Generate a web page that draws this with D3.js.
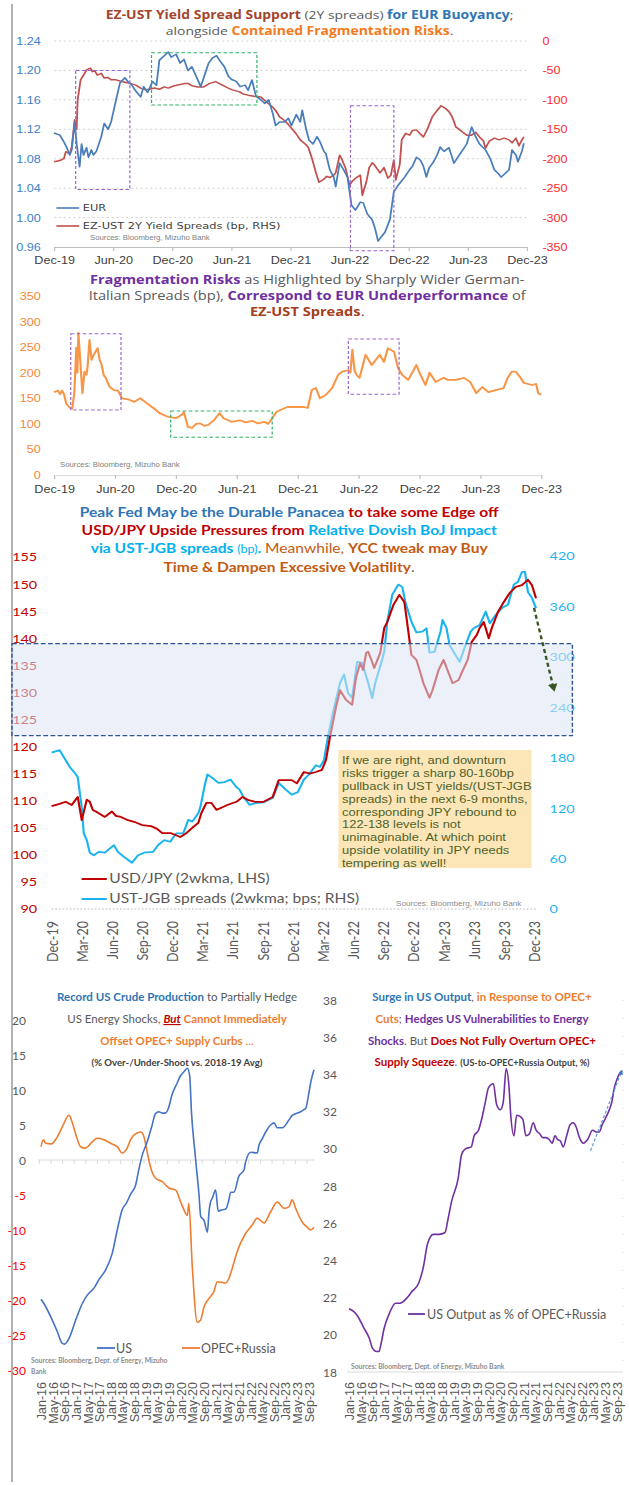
<!DOCTYPE html>
<html>
<head>
<meta charset="utf-8">
<script src="https://cdnjs.cloudflare.com/ajax/libs/d3/7.8.5/d3.min.js"></script>
<style>
  body { margin: 0; background: #fff; }
  svg { display: block; }
</style>
</head>
<body>
<div id="chart"></div>
<script>
// ---------- data (x = months since first tick) ----------

// panel 1: EUR vs EZ-UST 2Y spread (months since Dec-19)
const halfYearLabels = ["Dec-19","Jun-20","Dec-20","Jun-21","Dec-21","Jun-22","Dec-22","Jun-23","Dec-23"];
const eurPts = [[0,1.115],[0.6,1.112],[1.0,1.103],[1.3,1.095],[1.6,1.085],[1.8,1.092],[2.1,1.13],[2.3,1.10],[2.6,1.069],[2.8,1.10],[3.0,1.085],[3.3,1.095],[3.5,1.082],[3.8,1.092],[4.0,1.085],[4.3,1.09],[4.8,1.11],[5.1,1.128],[5.5,1.12],[5.8,1.13],[6.3,1.16],[6.7,1.183],[7.2,1.19],[7.5,1.185],[7.9,1.18],[8.3,1.172],[8.8,1.164],[9.1,1.178],[9.5,1.17],[10.0,1.185],[10.4,1.18],[10.7,1.214],[11.2,1.22],[11.6,1.225],[11.9,1.218],[12.4,1.222],[12.8,1.21],[13.2,1.215],[13.6,1.20],[14.0,1.205],[14.5,1.19],[14.9,1.178],[15.2,1.19],[15.7,1.21],[16.1,1.217],[16.5,1.22],[16.9,1.212],[17.3,1.205],[17.7,1.192],[18.0,1.188],[18.5,1.185],[18.9,1.178],[19.4,1.18],[19.7,1.173],[20.1,1.187],[20.5,1.165],[21.0,1.16],[21.4,1.155],[21.8,1.16],[22.2,1.142],[22.5,1.125],[22.9,1.13],[23.4,1.13],[23.8,1.135],[24.1,1.125],[24.6,1.14],[25.0,1.13],[25.2,1.146],[25.6,1.12],[25.9,1.105],[26.3,1.10],[26.7,1.11],[27.0,1.103],[27.4,1.09],[27.6,1.087],[28.0,1.065],[28.4,1.055],[28.6,1.042],[29.0,1.074],[29.4,1.065],[29.8,1.055],[30.2,1.017],[30.6,1.01],[31.1,1.021],[31.4,1.02],[31.8,1.005],[32.3,0.997],[32.6,0.985],[32.9,0.968],[33.3,0.975],[33.6,0.98],[34.1,0.997],[34.5,1.035],[35.0,1.045],[35.6,1.055],[36.1,1.065],[36.4,1.07],[36.8,1.082],[37.2,1.078],[37.5,1.07],[37.8,1.055],[38.1,1.068],[38.5,1.075],[38.9,1.085],[39.2,1.096],[39.6,1.09],[40.1,1.095],[40.6,1.074],[40.9,1.08],[41.4,1.09],[41.9,1.10],[42.4,1.123],[42.8,1.11],[43.2,1.10],[43.8,1.092],[44.3,1.08],[44.7,1.065],[45.1,1.06],[45.4,1.055],[45.8,1.06],[46.2,1.065],[46.5,1.092],[46.9,1.085],[47.1,1.076],[47.5,1.09],[47.7,1.101]];
const ezSpreadPts = [[0,-205],[0.6,-203],[1.0,-200],[1.2,-188],[1.6,-192],[1.8,-180],[2.1,-134],[2.3,-150],[2.4,-100],[2.7,-66],[3.0,-58],[3.3,-49],[3.7,-46],[3.9,-52],[4.1,-50],[4.4,-58],[4.8,-55],[5.1,-63],[5.5,-62],[5.8,-66],[6.3,-66],[6.7,-68],[7.2,-70],[7.7,-72],[8.3,-75],[8.8,-80],[9.3,-83],[9.7,-82],[10.2,-80],[10.7,-82],[11.2,-78],[11.6,-80],[12.2,-76],[12.8,-74],[13.3,-72],[13.6,-72],[14.0,-76],[14.6,-78],[15.2,-78],[15.8,-72],[16.4,-69],[17.1,-75],[17.7,-80],[18.1,-83],[18.8,-86],[19.2,-90],[19.7,-92],[20.3,-94],[21.0,-95],[21.6,-104],[22.2,-112],[22.5,-118],[22.9,-129],[23.4,-135],[23.8,-142],[24.1,-148],[24.6,-158],[25.0,-168],[25.5,-175],[25.8,-180],[26.2,-200],[26.6,-224],[26.9,-240],[27.3,-236],[27.7,-230],[28.0,-232],[28.4,-228],[28.6,-224],[29.0,-194],[29.2,-200],[29.6,-216],[30.0,-245],[30.3,-238],[30.7,-232],[31.1,-228],[31.3,-262],[31.7,-240],[32.0,-215],[32.3,-207],[32.6,-212],[33.1,-224],[33.5,-215],[33.9,-233],[34.2,-228],[34.5,-202],[34.7,-236],[35.1,-210],[35.3,-168],[35.7,-157],[36.1,-160],[36.4,-152],[36.8,-151],[37.2,-158],[37.5,-163],[37.9,-150],[38.4,-129],[38.9,-118],[39.3,-110],[39.7,-114],[40.1,-120],[40.4,-128],[40.8,-146],[41.2,-151],[41.5,-155],[41.9,-160],[42.4,-160],[42.8,-155],[43.2,-163],[43.6,-170],[43.8,-182],[44.2,-170],[44.7,-165],[45.2,-168],[45.7,-165],[46.2,-168],[46.5,-173],[46.9,-165],[47.2,-178],[47.5,-168],[47.7,-163]];
// highlight boxes in left-axis units
const p1Boxes = [
  { t0: 2.2, t1: 7.7, v0: 1.20, v1: 1.038, kind: "purple" },
  { t0: 9.9, t1: 20.6, v0: 1.224, v1: 1.153, kind: "green" },
  { t0: 30.1, t1: 34.5, v0: 1.152, v1: 0.955, kind: "purple" }
];

// panel 2: German-Italian spread (bp)
const btpBundPts = [[0,162],[0.4,165],[0.6,158],[0.8,165],[1.0,157],[1.2,140],[1.4,135],[1.6,131],[1.8,130],[2.0,160],[2.2,249],[2.3,200],[2.4,278],[2.6,220],[2.8,160],[3.0,202],[3.2,196],[3.3,210],[3.5,264],[3.7,225],[3.9,235],[4.1,241],[4.3,248],[4.5,225],[4.7,215],[4.9,195],[5.1,190],[5.3,180],[5.5,172],[5.9,166],[6.3,165],[6.7,150],[7.3,148],[7.9,143],[8.5,150],[9.1,141],[9.5,135],[9.8,131],[10.4,121],[11.2,114],[12.0,111],[12.6,118],[12.8,123],[13.2,94],[13.6,92],[14.0,100],[14.4,101],[14.8,96],[15.2,98],[15.8,108],[16.3,121],[16.7,111],[17.5,104],[18.3,107],[18.9,103],[19.5,106],[20.1,101],[20.7,104],[21.1,100],[21.5,111],[21.9,123],[22.3,127],[23.0,133],[23.8,133],[24.6,133],[25.0,131],[25.4,166],[25.8,170],[26.2,150],[26.8,157],[27.4,170],[28.0,196],[28.4,202],[29.0,205],[29.2,200],[29.4,245],[29.6,205],[29.8,196],[30.1,190],[30.7,235],[31.3,215],[32.1,235],[32.5,221],[32.9,248],[33.5,241],[33.9,209],[34.3,196],[34.9,186],[35.7,215],[36.1,196],[36.6,176],[37.0,200],[37.6,182],[38.4,190],[38.8,186],[39.6,186],[40.4,190],[41.0,182],[41.6,160],[42.2,172],[42.8,162],[43.5,166],[44.3,170],[44.7,190],[45.1,202],[45.5,202],[45.9,192],[46.3,180],[47.1,176],[47.5,178],[47.7,160],[48.0,157]];
const p2Boxes = [
  { t0: 1.65, t1: 6.6, v0: 276, v1: 127, kind: "purple" },
  { t0: 11.5, t1: 21.5, v0: 125, v1: 74, kind: "green" },
  { t0: 29.0, t1: 34.0, v0: 266, v1: 158, kind: "purple" }
];

// panel 3: USD/JPY vs UST-JGB spread (months since Dec-19)
const quarterLabels = ["Dec-19","Mar-20","Jun-20","Sep-20","Dec-20","Mar-21","Jun-21","Sep-21","Dec-21","Mar-22","Jun-22","Sep-22","Dec-22","Mar-23","Jun-23","Sep-23","Dec-23"];
const usdjpyPts = [[0,109.0],[0.8,109.4],[1.4,109.8],[2.0,109.2],[2.6,110.7],[3.0,106.4],[3.5,110.2],[3.8,109.8],[4.1,108.3],[4.4,108.0],[5.3,107.0],[6.0,108.0],[6.4,107.2],[6.9,107.0],[7.6,106.4],[8.2,106.1],[9.0,105.5],[9.9,105.3],[10.5,104.8],[11.0,104.0],[11.9,104.0],[12.8,103.3],[13.4,104.0],[14.0,105.0],[14.6,105.9],[14.9,107.7],[15.4,109.6],[15.9,109.6],[16.4,108.3],[17.0,108.8],[17.6,109.3],[18.4,109.8],[19.0,110.7],[19.6,110.1],[20.3,109.8],[21.1,109.8],[22.0,110.7],[22.6,113.8],[23.2,113.8],[23.9,113.8],[24.4,113.2],[25.1,115.3],[25.7,115.0],[26.3,115.3],[26.9,115.7],[27.3,117.5],[27.7,121.8],[28.3,127.3],[28.7,130.4],[29.3,128.6],[29.9,127.7],[30.3,132.8],[30.7,135.4],[31.0,134.1],[31.3,137.3],[31.5,137.5],[31.9,135.6],[32.1,134.5],[32.7,137.3],[33.1,141.9],[33.4,143.0],[34.0,146.1],[34.6,148.0],[35.1,146.7],[35.5,141.2],[35.8,136.9],[36.3,136.0],[36.7,133.6],[37.0,131.7],[37.6,129.0],[37.9,130.4],[38.5,134.1],[39.0,136.0],[39.4,134.1],[39.9,131.7],[40.5,132.3],[40.8,133.6],[41.4,136.0],[41.8,139.3],[42.3,140.6],[42.6,141.9],[43.0,143.0],[43.5,140.0],[43.8,141.9],[44.4,144.8],[45.0,146.7],[45.6,148.4],[46.2,149.5],[46.8,149.8],[47.4,150.8],[47.8,149.8],[48.2,147.4]];
const ustJgbPts = [[0,186],[0.8,189],[1.2,181],[1.8,169],[2.3,162],[2.6,157],[3.0,121],[3.2,90],[3.5,82],[3.8,67],[4.2,64],[4.7,68],[5.3,67],[6.2,76],[6.6,68],[7.2,62],[8.0,55],[8.6,64],[9.2,67],[10.1,68],[10.6,76],[11.2,82],[11.8,80],[12.4,90],[13.1,90],[13.6,106],[14.0,104],[14.6,114],[14.8,121],[15.2,145],[15.5,160],[16.0,156],[16.6,150],[17.2,151],[17.8,154],[18.4,145],[18.7,142],[19.1,133],[19.7,124],[20.3,126],[21.1,127],[22.0,132],[22.6,150],[23.3,142],[23.9,136],[24.5,139],[25.1,154],[25.6,160],[26.3,171],[26.7,169],[27.1,177],[27.5,205],[28.1,239],[28.7,269],[29.1,279],[29.5,257],[29.9,251],[30.4,294],[30.9,293],[31.5,269],[31.9,251],[32.2,269],[32.8,293],[33.1,306],[33.4,342],[33.9,374],[34.5,386],[34.9,383],[35.2,365],[35.8,342],[36.3,329],[36.9,330],[37.3,334],[37.6,305],[38.1,306],[38.7,330],[38.9,344],[39.3,334],[39.6,314],[40.2,302],[40.6,294],[41.1,311],[41.7,330],[42.0,334],[42.6,338],[43.2,354],[43.6,340],[44.2,350],[44.8,358],[45.4,362],[46.0,386],[46.4,389],[46.8,401],[47.1,401],[47.4,377],[47.8,370],[48.2,358]];
const targetBand = [122, 139];               // USD/JPY band (LHS)
const jpyPath = [[48.0,145.6],[50.0,130.4]]; // projected pullback (LHS)
const noteLines = ["If we are right, and downturn","risks trigger a sharp 80-160bp","pullback in UST  yields/(UST-JGB","spreads) in the next 6-9 months,","corresponding JPY rebound to","122-138 levels is not","unimaginable. At which point","upside volatility in JPY needs","tempering as well!"];

// panel 4: crude output (months since Jan-16)
const monthLabels = ["Jan-16","May-16","Sep-16","Jan-17","May-17","Sep-17","Jan-18","May-18","Sep-18","Jan-19","May-19","Sep-19","Jan-20","May-20","Sep-20","Jan-21","May-21","Sep-21","Jan-22","May-22","Sep-22","Jan-23","May-23","Sep-23"];
const usOutPts = [[0,-19.9],[1.0,-20.5],[3.9,-22.9],[5.6,-24.5],[7.3,-26.2],[8.1,-26.3],[9.6,-25.5],[11.9,-22.9],[14.2,-20.5],[15.9,-19.3],[18.2,-18.3],[19.9,-17.1],[22.2,-15.7],[24.5,-13.3],[26.2,-10.0],[27.9,-7.1],[29.3,-6.2],[30.9,-4.8],[32.5,-3.6],[33.7,-1.2],[34.8,0.7],[36.5,2.6],[38.2,5.0],[39.3,6.6],[40.5,6.9],[41.6,6.7],[42.7,6.7],[43.8,7.4],[45.0,9.3],[46.8,11.0],[47.9,12.0],[49.1,12.6],[50.3,13.1],[51.1,12.0],[51.7,6.9],[53.0,0.7],[54.3,-5.0],[54.9,-8.1],[56.0,-8.6],[57.2,-10.3],[57.7,-7.6],[58.2,-6.1],[58.9,-5.4],[60.0,-4.3],[60.9,-7.3],[62.3,-7.1],[63.5,-7.0],[64.4,-6.0],[65.2,-4.6],[66.3,-4.6],[68.0,-2.3],[69.8,-1.4],[70.3,-0.3],[72.1,1.1],[74.3,1.0],[74.9,2.1],[76.1,3.1],[77.2,4.0],[78.9,5.0],[80.1,5.3],[81.2,4.6],[82.9,4.6],[85.2,5.7],[86.4,6.4],[88.1,6.7],[89.2,6.9],[90.0,7.1],[91.0,7.4],[92.1,9.7],[92.7,11.1],[93.8,12.9]];
const opecOutPts = [[0,1.9],[0.8,2.9],[1.6,2.4],[3.5,2.3],[5.6,3.3],[7.3,4.7],[9.6,6.4],[10.7,5.4],[12.0,3.6],[13.6,1.9],[15.3,1.7],[17.6,2.6],[19.3,3.1],[21.6,2.9],[23.9,2.4],[26.2,1.9],[27.9,1.0],[29.6,1.7],[30.8,2.9],[32.0,3.6],[34.3,4.0],[35.4,3.3],[36.5,1.1],[37.7,-1.1],[39.4,-2.6],[41.7,-3.1],[44.0,-4.0],[46.3,-4.3],[48.0,-6.0],[49.1,-7.1],[50.3,-7.9],[50.8,-6.2],[52.0,-15.3],[53.7,-23.2],[54.8,-22.9],[56.0,-21.0],[57.7,-19.8],[59.4,-18.8],[60.6,-17.4],[62.3,-17.5],[63.4,-17.6],[64.6,-16.9],[65.7,-15.5],[67.4,-13.1],[70.3,-10.5],[72.6,-9.3],[74.3,-8.3],[76.6,-9.0],[78.9,-7.4],[81.2,-6.0],[83.5,-6.9],[85.2,-6.7],[86.3,-5.7],[87.5,-6.9],[89.8,-8.9],[91.5,-9.6],[92.6,-10.0],[93.8,-9.6]];
const usShareOfOpecPts = [[0,21.4],[2,21.2],[3,21.0],[5,20.4],[7,19.8],[8,19.3],[9.5,19.1],[10.3,19.1],[11,19.5],[12,20.3],[14,21.2],[16,21.7],[17.5,21.7],[20,22.0],[21.5,22.3],[24,22.8],[25.5,23.6],[27,24.9],[29,25.4],[31,25.4],[33,25.5],[34,26.2],[35.3,27.2],[37.5,28.4],[38.7,29.7],[40,30.0],[42,30.1],[43,30.7],[44.5,31.0],[45.6,31.6],[46.7,32.4],[48,33.3],[49.6,33.5],[50.7,32.4],[52,32.1],[53,32.5],[54,34.3],[55,33.3],[55.5,32.0],[56.7,30.7],[57.6,31.8],[59.7,31.6],[60.8,30.7],[62,30.8],[63.3,31.4],[64.3,31.0],[65.6,30.8],[66.6,30.6],[67.7,30.6],[68.8,30.5],[69.8,30.3],[70.8,30.7],[71.7,30.5],[72.7,30.4],[73.6,30.1],[74.8,30.7],[76,31.3],[77,31.4],[78,31.2],[79.2,30.6],[80.5,30.3],[82,30.5],[83.7,31.0],[85,30.9],[86,30.9],[87,31.3],[88,31.6],[89.2,32.0],[90.3,32.5],[91.2,33.3],[92,33.7],[92.8,34.0],[93.7,34.2]];
const shareTrend = [[83,29.9],[93.8,34.2]];

// ---------- drawing ----------
const W = 629, H = 1486;
const ARIAL = "'Liberation Sans', Arial, sans-serif";
const CALIBRI = "Lato, 'Open Sans', sans-serif";
const SEGOE = "'Open Sans', sans-serif";
const VERDANA = "'DejaVu Sans', Verdana, sans-serif";
const GRAY = "#595959";

const svg = d3.select("#chart").append("svg")
    .attr("width", W).attr("height", H);
svg.append("rect").attr("width", W).attr("height", H).attr("fill", "#fff");

const defs = svg.append("defs");
function arrowMarker(id, color, size) {
  defs.append("marker").attr("id", id)
    .attr("viewBox", "0 0 10 10").attr("refX", 8).attr("refY", 5)
    .attr("markerWidth", size).attr("markerHeight", size)
    .attr("orient", "auto")
    .append("path").attr("d", "M0,0 L10,5 L0,10 z").attr("fill", color);
}
arrowMarker("arrGreen", "#375623", 4);
arrowMarker("arrBlue", "#4472c4", 4);

// left frame line
svg.append("line").attr("x1", 12).attr("x2", 12).attr("y1", 4).attr("y2", 1482)
  .attr("stroke", "#7f7f7f").attr("stroke-width", 1.2);

function richLine(g, x, y, parts, font, size) {
  const t = g.append("text").attr("x", x).attr("y", y)
    .attr("text-anchor", "middle")
    .style("font-family", font).style("font-size", size + "px");
  parts.forEach(p => {
    const s = t.append("tspan").text(p[0]).attr("fill", p[1] || GRAY);
    const st = p[2] || "";
    if (st.includes("b")) s.attr("font-weight", "bold");
    if (st.includes("i")) s.attr("font-style", "italic");
    if (st.includes("u")) s.attr("text-decoration", "underline");
    if (st.includes("s")) s.style("font-size", (size - 2.5) + "px");
  });
}

function drawSeries(g, pts, x, y, color, w, curve) {
  g.append("path").datum(pts)
    .attr("d", d3.line().x(d => x(d[0])).y(d => y(d[1])).curve(curve || d3.curveLinear))
    .attr("fill", "none").attr("stroke", color).attr("stroke-width", w)
    .attr("stroke-linejoin", "round");
}

const boxColors = { purple: "#9966cc", green: "#33b06a" };
function drawBoxes(g, boxes, x, y) {
  boxes.forEach(b => {
    g.append("rect")
      .attr("x", x(b.t0)).attr("y", y(b.v0))
      .attr("width", x(b.t1) - x(b.t0)).attr("height", y(b.v1) - y(b.v0))
      .attr("fill", "none").attr("stroke", boxColors[b.kind])
      .attr("stroke-width", 1).attr("stroke-dasharray", "3,2");
  });
}

function textAt(g, x, y, str, opts) {
  return g.append("text").attr("x", x).attr("y", y).text(str)
    .attr("text-anchor", opts.anchor || "start")
    .attr("fill", opts.color || GRAY)
    .attr("font-weight", opts.weight || "normal")
    .style("font-family", opts.font || ARIAL)
    .style("font-size", opts.size + "px");
}

// the upper three charts are pasted wider than they are tall
const top3 = svg.append("g").attr("transform", "scale(1.2,1)");

// ===== Panel 1 =====
{
  const g = top3.append("g");
  const x = d3.scaleLinear().domain([0, 48]).range([45, 439]);
  const yL = d3.scaleLinear().domain([0.96, 1.24]).range([247, 41]);
  const yR = d3.scaleLinear().domain([-350, 0]).range([247, 41]);

  d3.range(0.96, 1.2401, 0.04).forEach(v => {
    if (Math.abs(v - 0.96) > 1e-6)
      g.append("line").attr("x1", 45).attr("x2", 439).attr("y1", yL(v)).attr("y2", yL(v))
        .attr("stroke", "#d9d9d9").attr("stroke-dasharray", "2,2");
    textAt(g, 34, yL(v) + 4, v.toFixed(2), { anchor: "end", color: "#3d7fc6", size: 10.5 });
  });
  d3.range(-350, 1, 50).forEach(v =>
    textAt(g, 452, yR(v) + 4, v, { color: "#ff2a2a", size: 10.5 }));

  const ax = g.append("g").attr("transform", "translate(0,247)")
    .call(d3.axisBottom(x).tickValues(d3.range(0, 49, 6))
      .tickFormat((d, i) => halfYearLabels[i]).tickSize(4).tickPadding(6).tickSizeOuter(0));
  ax.select(".domain").attr("stroke", "#bfbfbf");
  ax.selectAll(".tick line").attr("stroke", "#bfbfbf");
  ax.selectAll("text").attr("fill", "#404040").style("font-family", ARIAL).style("font-size", "10.5px");

  drawSeries(g, ezSpreadPts, x, yR, "#c0504d", 1.5);
  drawSeries(g, eurPts, x, yL, "#4a7ebb", 1.5);
  drawBoxes(g, p1Boxes, x, yL);

  richLine(g, 258, 19, [["EZ-UST Yield Spread Support", "#a5452c", "b"], [" (2Y spreads) ", GRAY], ["for EUR  Buoyancy", "#2e75b6", "b"], [";", GRAY]], SEGOE, 11.6);
  richLine(g, 258, 35, [["alongside ", GRAY], ["Contained Fragmentation Risks", "#f47a20", "b"], [".", GRAY]], SEGOE, 11.6);

  g.append("line").attr("x1", 47).attr("x2", 66).attr("y1", 208).attr("y2", 208).attr("stroke", "#4a7ebb").attr("stroke-width", 1.6);
  textAt(g, 69, 211.5, "EUR", { color: "#404040", size: 9.5, font: VERDANA });
  g.append("line").attr("x1", 47).attr("x2", 66).attr("y1", 226).attr("y2", 226).attr("stroke", "#c0504d").attr("stroke-width", 1.6);
  textAt(g, 69, 229.5, "EZ-UST 2Y Yield Spreads (bp, RHS)", { color: "#404040", size: 9.5, font: VERDANA });
  textAt(g, 75, 240, "Sources: Bloomberg, Mizuho Bank", { color: "#808080", size: 6.5 });
}

// ===== Panel 2 =====
{
  const g = top3.append("g");
  const x = d3.scaleLinear().domain([0, 48]).range([45, 451]);
  const y = d3.scaleLinear().domain([0, 350]).range([475, 296]);

  d3.range(0, 351, 50).forEach(v =>
    textAt(g, 34, y(v) + 4, v, { anchor: "end", color: "#f5873a", size: 10.5 }));

  const ax = g.append("g").attr("transform", "translate(0,475)")
    .call(d3.axisBottom(x).tickValues(d3.range(0, 49, 6))
      .tickFormat((d, i) => halfYearLabels[i]).tickSize(4).tickPadding(7).tickSizeOuter(0));
  ax.select(".domain").attr("stroke", "#d9d9d9");
  ax.selectAll(".tick line").attr("stroke", "#bfbfbf");
  ax.selectAll("text").attr("fill", "#404040").style("font-family", ARIAL).style("font-size", "10.5px");

  drawSeries(g, btpBundPts, x, y, "#f79646", 1.8);
  drawBoxes(g, p2Boxes, x, y);

  richLine(g, 256, 284, [["Fragmentation Risks", "#7030a0", "b"], [" as Highlighted by Sharply Wider German-", GRAY]], SEGOE, 12.2);
  richLine(g, 256, 300, [["Italian Spreads  (bp), ", GRAY], ["Correspond to EUR Underperformance", "#7030a0", "b"], [" of", GRAY]], SEGOE, 12.2);
  richLine(g, 256, 316, [["EZ-UST Spreads", "#a5401c", "b"], [".", GRAY]], SEGOE, 12.2);
  textAt(g, 50, 467, "Sources: Bloomberg, Mizuho Bank", { color: "#808080", size: 6.5 });
}

// ===== Panel 3 =====
{
  const g = top3.append("g");
  const x = d3.scaleLinear().domain([0, 48]).range([43, 445]);
  const yL = d3.scaleLinear().domain([90, 155]).range([909, 557]);
  const yR = d3.scaleLinear().domain([0, 420]).range([909, 556]);

  d3.range(90, 156, 5).forEach(v =>
    textAt(g, 31, yL(v) + 4.5, v, { anchor: "end", color: "#c00000", size: 12, font: CALIBRI }));
  d3.range(0, 421, 60).forEach(v =>
    textAt(g, 458, yR(v) + 4.5, v, { color: "#1fb4ef", size: 12, font: CALIBRI }));

  g.append("line").attr("x1", 43).attr("x2", 447).attr("y1", 909).attr("y2", 909)
    .attr("stroke", "#bfbfbf").attr("stroke-dasharray", "1.5,1.5");
  quarterLabels.forEach((lab, i) => {
    g.append("text").text(lab)
      .attr("transform", `translate(${x(i * 3)},921) rotate(-90)`)
      .attr("text-anchor", "end").attr("dominant-baseline", "central")
      .attr("fill", GRAY).style("font-family", CALIBRI).style("font-size", "12.5px");
  });

  drawSeries(g, ustJgbPts, x, yR, "#19b4f0", 1.8);
  drawSeries(g, usdjpyPts, x, yL, "#c00000", 1.8);

  // target band
  g.append("rect").attr("x", 10).attr("y", yL(targetBand[1]))
    .attr("width", 467).attr("height", yL(targetBand[0]) - yL(targetBand[1]))
    .attr("fill", "#dce6f4").attr("fill-opacity", 0.55)
    .attr("stroke", "#2f5597").attr("stroke-width", 1.2).attr("stroke-dasharray", "4,2");

  g.append("line")
    .attr("x1", x(jpyPath[0][0])).attr("y1", yL(jpyPath[0][1]))
    .attr("x2", x(jpyPath[1][0])).attr("y2", yL(jpyPath[1][1]))
    .attr("stroke", "#375623").attr("stroke-width", 2).attr("stroke-dasharray", "4,3")
    .attr("marker-end", "url(#arrGreen)");

  // note
  g.append("rect").attr("x", 282).attr("y", 750).attr("width", 161).attr("height", 118)
    .attr("fill", "#fce6b8");
  noteLines.forEach((l, i) =>
    textAt(g, 285, 764 + i * 12.9, l, { color: "#4f6228", size: 10.8 }));

  richLine(g, 241, 517, [["Peak Fed May be the Durable Panacea", "#2e75b6", "b"], [" to take some Edge off", "#c00000", "b"]], CALIBRI, 13);
  richLine(g, 241, 535, [["USD/JPY Upside Pressures from ", "#c00000", "b"], ["Relative Dovish BoJ Impact", "#00b0f0", "b"]], CALIBRI, 13);
  richLine(g, 241, 553, [["via UST-JGB spreads ", "#00b0f0", "b"], ["(bp)", "#00b0f0", "s"], [". ", "#00b0f0", "b"], ["Meanwhile, ", "#c55a11"], ["YCC tweak may Buy", "#c55a11", "b"]], CALIBRI, 13);
  richLine(g, 241, 572, [["Time & Dampen Excessive Volatility", "#c55a11", "b"], [".", GRAY]], CALIBRI, 13);

  g.append("line").attr("x1", 68).attr("x2", 89).attr("y1", 879).attr("y2", 879).attr("stroke", "#c00000").attr("stroke-width", 2);
  textAt(g, 91, 883.5, "USD/JPY (2wkma, LHS)", { size: 13, font: CALIBRI });
  g.append("line").attr("x1", 68).attr("x2", 89).attr("y1", 899).attr("y2", 899).attr("stroke", "#19b4f0").attr("stroke-width", 2);
  textAt(g, 91, 903.5, "UST-JGB spreads (2wkma; bps; RHS)", { size: 13, font: CALIBRI });
  textAt(g, 330, 906, "Sources: Bloomberg, Mizuho Bank", { color: "#8c8c8c", size: 6.8 });
}

// ===== Panel 4 left =====
{
  const g = svg.append("g");
  const x = d3.scaleLinear().domain([0, 94]).range([41, 41 + 2.91 * 94]);
  const y = d3.scaleLinear().domain([-30, 20]).range([1370, 1020]);

  d3.range(-30, 21, 5).forEach(v =>
    textAt(g, 26, y(v) + 4.5, v, { anchor: "end", color: v < 0 ? "#ff0000" : GRAY, size: 12, font: CALIBRI }));

  g.append("line").attr("x1", 38).attr("x2", 315).attr("y1", y(0)).attr("y2", y(0)).attr("stroke", "#d9d9d9");
  monthLabels.forEach((lab, i) => {
    g.append("line").attr("x1", x(i * 4 - 0.6)).attr("x2", x(i * 4 - 0.6))
      .attr("y1", y(0)).attr("y2", y(0) + 4).attr("stroke", "#d9d9d9");
    g.append("text").text(lab)
      .attr("transform", `translate(${x(i * 4) + 1},1382) rotate(-90)`)
      .attr("text-anchor", "end").attr("dominant-baseline", "central")
      .attr("fill", GRAY).style("font-family", ARIAL).style("font-size", "12.5px");
  });

  drawSeries(g, opecOutPts, x, y, "#ed7d31", 1.6, d3.curveMonotoneX);
  drawSeries(g, usOutPts, x, y, "#4472c4", 1.6, d3.curveMonotoneX);

  richLine(g, 177, 1001, [["Record US Crude Production", "#2e75b6", "b"], [" to Partially Hedge", GRAY]], CALIBRI, 11.5);
  richLine(g, 177, 1023, [["US Energy Shocks, ", GRAY], ["But", "#c00000", "biu"], [" Cannot Immediately", "#ed7d31", "b"]], CALIBRI, 11.5);
  richLine(g, 177, 1045, [["Offset OPEC+ Supply Curbs", "#ed7d31", "b"], [" ...", "#ed7d31"]], CALIBRI, 11.5);
  richLine(g, 177, 1066, [["(% Over-/Under-Shoot vs. 2018-19 Avg)", "#404040", "b"]], CALIBRI, 9.6);

  g.append("line").attr("x1", 97).attr("x2", 115).attr("y1", 1348).attr("y2", 1348).attr("stroke", "#4472c4").attr("stroke-width", 1.8);
  textAt(g, 116, 1352.5, "US", { size: 12.5, font: CALIBRI });
  g.append("line").attr("x1", 182).attr("x2", 200).attr("y1", 1348).attr("y2", 1348).attr("stroke", "#ed7d31").attr("stroke-width", 1.8);
  textAt(g, 201, 1352.5, "OPEC+Russia", { size: 12.5, font: CALIBRI });
  textAt(g, 31, 1363, "Sources: Bloomberg, Dept. of Energy, Mizuho", { color: "#8c8c8c", size: 6.8, font: CALIBRI, weight: "bold" });
  textAt(g, 31, 1374, "Bank", { color: "#8c8c8c", size: 6.8, font: CALIBRI, weight: "bold" });
}

// ===== Panel 4 right =====
{
  const g = svg.append("g");
  const x = d3.scaleLinear().domain([0, 94]).range([349, 349 + 2.91 * 94]);
  const y = d3.scaleLinear().domain([18, 38]).range([1372, 1000]);

  d3.range(18, 39, 2).forEach(v =>
    textAt(g, 337, y(v) + 4.5, v, { anchor: "end", size: 12, font: CALIBRI }));

  g.append("line").attr("x1", 347).attr("x2", 623).attr("y1", 1372).attr("y2", 1372).attr("stroke", "#d9d9d9");
  g.append("line").attr("x1", 623).attr("x2", 623).attr("y1", 1000).attr("y2", 1372)
    .attr("stroke", "#d9d9d9").attr("stroke-dasharray", "1,17");
  monthLabels.forEach((lab, i) => {
    g.append("text").text(lab)
      .attr("transform", `translate(${x(i * 4) + 1},1382) rotate(-90)`)
      .attr("text-anchor", "end").attr("dominant-baseline", "central")
      .attr("fill", GRAY).style("font-family", ARIAL).style("font-size", "12.5px");
  });

  drawSeries(g, usShareOfOpecPts, x, y, "#7030a0", 1.6, d3.curveMonotoneX);
  g.append("line")
    .attr("x1", x(shareTrend[0][0])).attr("y1", y(shareTrend[0][1]))
    .attr("x2", x(shareTrend[1][0])).attr("y2", y(shareTrend[1][1]))
    .attr("stroke", "#5b9bd5").attr("stroke-width", 1.2).attr("stroke-dasharray", "3,2")
    .attr("marker-end", "url(#arrBlue)");

  richLine(g, 482, 1001, [["Surge in US Output", "#2e75b6", "b"], [", ", GRAY], ["in Response to OPEC+", "#ed7d31", "b"]], CALIBRI, 11.5);
  richLine(g, 482, 1023, [["Cuts", "#ed7d31", "b"], ["; ", GRAY], ["Hedges US Vulnerabilities to Energy", "#7030a0", "b"]], CALIBRI, 11.5);
  richLine(g, 482, 1045, [["Shocks", "#7030a0", "b"], [". But ", GRAY], ["Does Not Fully Overturn OPEC+", "#c00000", "b"]], CALIBRI, 11.5);
  richLine(g, 482, 1066, [["Supply Squeeze", "#c00000", "b"], [". ", GRAY], ["(US-to-OPEC+Russia Output, %)", "#404040", "bs"]], CALIBRI, 11.5);

  g.append("line").attr("x1", 408).attr("x2", 425).attr("y1", 1314).attr("y2", 1314).attr("stroke", "#7030a0").attr("stroke-width", 1.8);
  textAt(g, 427, 1318.5, "US Output as % of OPEC+Russia", { size: 12.5, font: CALIBRI });
  textAt(g, 351, 1369, "Sources: Bloomberg, Dept. of Energy, Mizuho Bank", { color: "#8c8c8c", size: 6.8, font: CALIBRI, weight: "bold" });
}
</script>
</body>
</html>
